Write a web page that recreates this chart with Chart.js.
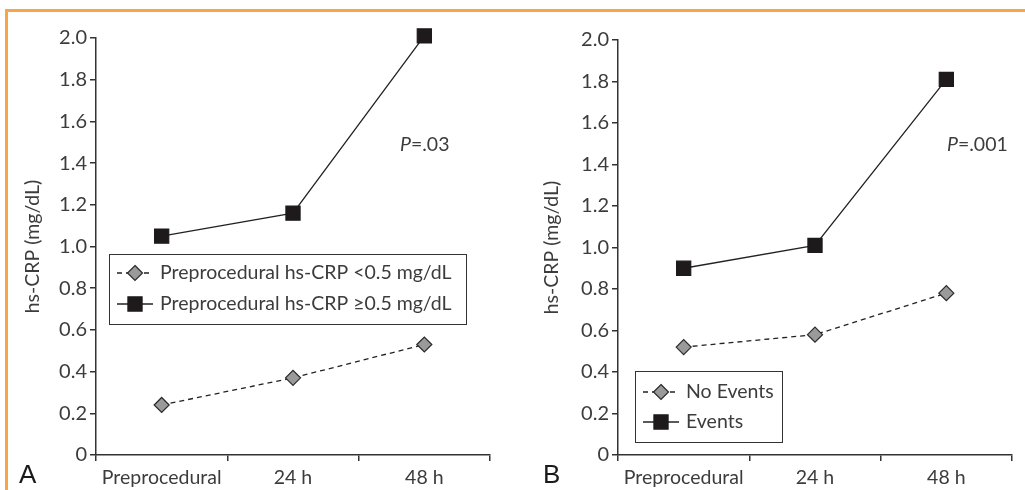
<!DOCTYPE html>
<html>
<head>
<meta charset="utf-8">
<script src="https://cdn.jsdelivr.net/npm/chart.js@4/dist/chart.umd.min.js"></script>
<style>
  body { margin: 0; background: #fff; width: 1025px; height: 490px; overflow: hidden; position: relative; }
  #frame { position: absolute; left: 5px; top: 9px; width: 1030px; height: 500px;
           border-top: 3px solid #f7a645; border-left: 3px solid #f7a645; box-sizing: border-box; }
  .panel { position: absolute; top: 0; width: 512px; height: 490px; }
  .tag { position: absolute; top: 459px; font: 26px "Liberation Sans", Arial, sans-serif; color: #1a1a1a; }
</style>
</head>
<body>
<div id="frame"></div>
<div class="panel" style="left:0"><canvas id="chartA"></canvas></div>
<div class="panel" style="left:512px"><canvas id="chartB"></canvas></div>
<div class="tag" style="left:19px">A</div>
<div class="tag" style="left:543px">B</div>

<script>
// categories and series
var timepoints = ['Preprocedural', '24 h', '48 h'];
var yTicks = [0, 0.2, 0.4, 0.6, 0.8, 1.0, 1.2, 1.4, 1.6, 1.8, 2.0];

var labelsA = ['Preprocedural hs-CRP <0.5 mg/dL', 'Preprocedural hs-CRP \u22650.5 mg/dL'];
var lowCrp = [0.24, 0.37, 0.53];
var highCrp = [1.05, 1.16, 2.01];

var labelsB = ['No Events', 'Events'];
var noEvents = [0.52, 0.58, 0.78];
var events = [0.90, 1.01, 1.81];

var FONT = 'Lato, "Open Sans", sans-serif';
var INK = '#333';
var TEXT = '#3c3c3c';

// legend in a framed box inside the plot
var boxLegend = {
  id: 'boxLegend',
  afterDraw: function(chart) {
    var o = chart.options.plugins.boxLegend;
    if (!o) return;
    var ctx = chart.ctx;
    ctx.save();
    ctx.strokeStyle = INK;
    ctx.lineWidth = 1;
    ctx.strokeRect(o.x + 0.5, o.y + 0.5, o.w, o.h);
    chart.data.datasets.forEach(function(ds, i) {
      var cy = o.y + o.rowY[i];
      var x0 = o.x + 8, x1 = o.x + 44, cx = (x0 + x1) / 2;
      ctx.strokeStyle = ds.borderColor;
      ctx.lineWidth = ds.borderWidth;
      ctx.setLineDash(ds.borderDash || []);
      ctx.beginPath(); ctx.moveTo(x0, cy); ctx.lineTo(x1, cy); ctx.stroke();
      ctx.setLineDash([]);
      ctx.fillStyle = ds.pointBackgroundColor;
      ctx.strokeStyle = ds.pointBorderColor;
      ctx.lineWidth = ds.pointBorderWidth;
      var r = ds.pointRadius;
      ctx.beginPath();
      if (ds.pointStyle === 'rectRot') {
        ctx.moveTo(cx, cy - r); ctx.lineTo(cx + r, cy); ctx.lineTo(cx, cy + r); ctx.lineTo(cx - r, cy);
      } else {
        var s = r * Math.SQRT1_2;
        ctx.rect(cx - s, cy - s, 2 * s, 2 * s);
      }
      ctx.closePath(); ctx.fill(); ctx.stroke();
      ctx.fillStyle = TEXT;
      ctx.font = '19.5px ' + FONT;
      ctx.textBaseline = 'middle';
      ctx.fillText(ds.label, x1 + 7, cy);
    });
    ctx.restore();
  }
};

// P value note
var pNote = {
  id: 'pNote',
  afterDraw: function(chart) {
    var o = chart.options.plugins.pNote;
    if (!o) return;
    var ctx = chart.ctx;
    ctx.save();
    ctx.fillStyle = TEXT;
    ctx.textBaseline = 'middle';
    ctx.font = 'italic 19.5px ' + FONT;
    ctx.fillText('P', o.x, o.y);
    var w = ctx.measureText('P').width;
    ctx.font = '19.5px ' + FONT;
    ctx.fillText(o.text, o.x + w, o.y);
    ctx.restore();
  }
};

function makeSeries(label, values, dashed) {
  return {
    label: label,
    data: values,
    clip: false,
    borderColor: '#222',
    borderWidth: 1.3,
    borderDash: dashed ? [5, 4] : [],
    pointStyle: dashed ? 'rectRot' : 'rect',
    pointRadius: dashed ? 7.5 : 10,
    pointBackgroundColor: dashed ? '#9a9a9a' : '#1e1a1b',
    pointBorderColor: dashed ? '#2a2a2a' : '#1e1a1b',
    pointBorderWidth: 1.2,
    tension: 0
  };
}

function makeChart(id, series, p) {
  return new Chart(document.getElementById(id), {
    type: 'line',
    data: { labels: timepoints, datasets: series },
    plugins: [boxLegend, pNote],
    options: {
      responsive: true,
      maintainAspectRatio: false,
      animation: false,
      layout: { padding: { left: p.padLeft, top: p.top, right: p.padRight, bottom: 0 } },
      plugins: {
        legend: { display: false },
        tooltip: { enabled: false },
        boxLegend: p.legend,
        pNote: p.note
      },
      scales: {
        x: {
          offset: true,
          grid: { offset: true, drawOnChartArea: false, drawTicks: true, tickLength: 6, color: INK, lineWidth: 1.5 },
          border: { color: INK, width: 1.5 },
          ticks: { color: TEXT, font: { family: FONT, size: 19.5 }, padding: 5, maxRotation: 0 },
          afterFit: function(s) { s.height = 35; }
        },
        y: {
          min: 0, max: 2,
          afterBuildTicks: function(s) { s.ticks = yTicks.map(function(v) { return { value: v }; }); },
          grid: { drawOnChartArea: false, drawTicks: true, tickLength: 6, color: INK, lineWidth: 1.5 },
          border: { color: INK, width: 1.5 },
          ticks: {
            color: TEXT, font: { family: FONT, size: 20 }, padding: 3,
            callback: function(v) { return v === 0 ? '0' : v.toFixed(1); }
          },
          title: { display: true, text: 'hs-CRP (mg/dL)', color: TEXT, font: { family: FONT, size: 19.5 }, padding: { top: 1, bottom: 0 } },
          afterFit: function(s) { s.width = p.axisWidth; }
        }
      }
    }
  });
}

makeChart('chartA',
  [makeSeries(labelsA[0], lowCrp, true), makeSeries(labelsA[1], highCrp, false)],
  { padLeft: 20, axisWidth: 76, top: 38, padRight: 22,
    legend: { x: 109, y: 254, w: 357, h: 70, rowY: [19, 50] },
    note: { x: 400, y: 145, text: '=.03' } });

makeChart('chartB',
  [makeSeries(labelsB[0], noEvents, true), makeSeries(labelsB[1], events, false)],
  { padLeft: 27, axisWidth: 79, top: 40, padRight: 12,
    legend: { x: 123, y: 371, w: 147, h: 71, rowY: [21, 51] },
    note: { x: 435, y: 145, text: '=.001' } });
</script>
</body>
</html>
